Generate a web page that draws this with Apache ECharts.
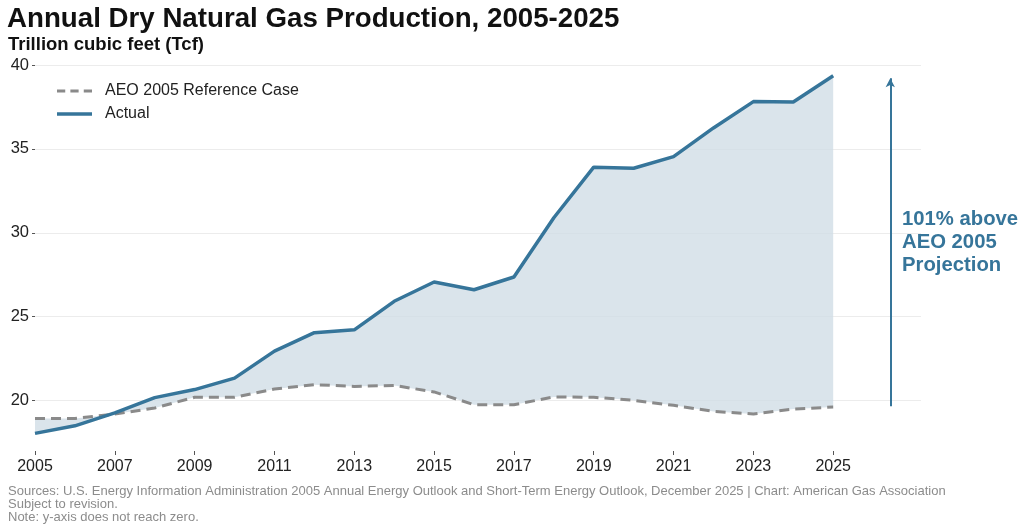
<!DOCTYPE html>
<html>
<head>
<meta charset="utf-8">
<script src="https://cdn.jsdelivr.net/npm/echarts@6/dist/echarts.min.js"></script>
<style>
html,body{margin:0;padding:0;background:#fff;}
#chart{width:1024px;height:529px;}
</style>
</head>
<body>
<div id="chart"></div>
<script>
const years = [2005,2006,2007,2008,2009,2010,2011,2012,2013,2014,2015,2016,2017,2018,2019,2020,2021,2022,2023,2024,2025];
const actual = [18.05,18.5,19.27,20.18,20.66,21.34,22.95,24.05,24.22,25.92,27.07,26.61,27.37,30.9,33.91,33.85,34.54,36.25,37.82,37.8,39.36];
const aeo2005 = [18.93,18.94,19.2,19.56,20.2,20.2,20.69,20.95,20.85,20.91,20.52,19.76,19.76,20.22,20.2,20.02,19.72,19.36,19.21,19.5,19.62];
const xTicks = [2005,2007,2009,2011,2013,2015,2017,2019,2021,2023,2025];
const yTicks = [20,25,30,35,40];
const titleText = 'Annual Dry Natural Gas Production, 2005-2025';
const subtitleText = 'Trillion cubic feet (Tcf)';
const annotationText = '101% above\nAEO 2005\nProjection';
const footLines = [
  'Sources: U.S. Energy Information Administration 2005 Annual Energy Outlook and Short-Term Energy Outlook, December 2025 | Chart: American Gas Association',
  'Subject to revision.',
  'Note: y-axis does not reach zero.'
];

const BLUE = '#36759a';
const GRAY = '#8a8a8a';
const FONT = '"Liberation Sans", Arial, sans-serif';

const actualPts = years.map((y,i)=>[y, actual[i]]);
const aeoPts = years.map((y,i)=>[y, aeo2005[i]]);
const bandData = years.map((y,i)=>[y, actual[i], aeo2005[i]]);
const arrowX = 2026.43;

const chart = echarts.init(document.getElementById('chart'), null, {renderer:'canvas'});
chart.setOption({
  animation:false,
  textStyle:{fontFamily:FONT},
  grid:{left:35, right:103, top:65, bottom:78, containLabel:false},
  xAxis:{
    type:'value', min:2005, max:2027.2,
    axisLine:{show:false},
    axisTick:{show:true, length:4, lineStyle:{color:'#555', width:1}, customValues:xTicks},
    axisLabel:{show:true, customValues:xTicks, color:'#222', fontSize:16, fontFamily:FONT, margin:8, formatter:v=>String(v)},
    splitLine:{show:false}
  },
  yAxis:{
    type:'value', min:17, max:40,
    axisLine:{show:false},
    axisTick:{show:true, length:3, lineStyle:{color:'#555', width:1}, customValues:yTicks},
    axisLabel:{show:true, customValues:yTicks, color:'#222', fontSize:16.5, fontFamily:FONT, margin:6},
    splitLine:{show:true, lineStyle:{color:'#ececec', width:1}}
  },
  legend:{
    show:true, left:52, top:78, orient:'vertical', itemGap:7,
    itemWidth:35, itemHeight:14,
    textStyle:{fontSize:16, color:'#222', fontFamily:FONT, padding:[0,0,0,8]},
    data:[
      {name:'AEO 2005 Reference Case', icon:'path://M0,6 L8,6 L8,9 L0,9 Z M13,6 L21,6 L21,9 L13,9 Z M26,6 L34,6 L34,9 L26,9 Z', itemStyle:{color:GRAY}},
      {name:'Actual', icon:'path://M0,5.8 L34,5.8 L34,9.2 L0,9.2 Z', itemStyle:{color:BLUE}}
    ]
  },
  series:[
    {
      name:'band', type:'custom', silent:true, z:1,
      data:bandData,
      encode:{x:0, y:[1,2]},
      renderItem:function(params, api){
        if (params.dataIndex !== 0) return null;
        const top = bandData.map(d=>api.coord([d[0], d[1]]));
        const bot = bandData.map(d=>api.coord([d[0], d[2]])).reverse();
        return {
          type:'polygon',
          shape:{points: top.concat(bot)},
          style:{fill:'#cfdce5', opacity:0.78}
        };
      }
    },
    {
      name:'AEO 2005 Reference Case', type:'line', data:aeoPts, symbol:'none',
      lineStyle:{color:GRAY, width:3, type:[10,6]}, itemStyle:{color:GRAY}, z:3
    },
    {
      name:'Actual', type:'line', data:actualPts, symbol:'none',
      lineStyle:{color:BLUE, width:3.5}, itemStyle:{color:BLUE}, z:4,
      markLine:{
        silent:true, symbol:['none','arrow'], symbolSize:[7,9],
        lineStyle:{color:BLUE, width:2, type:'solid'},
        label:{show:false},
        data:[[{coord:[arrowX, aeo2005[aeo2005.length-1]+0.05]},{coord:[arrowX, actual[actual.length-1]-0.15]}]]
      }
    }
  ],
  graphic:[
    {type:'text', left:7, top:5, style:{text:titleText, font:'bold 27.7px '+FONT, fill:'#111'}},
    {type:'text', left:8, top:35, style:{text:subtitleText, font:'bold 18.5px '+FONT, fill:'#111'}},
    {type:'text', left:902, top:207.5, style:{text:annotationText, font:'bold 20.3px '+FONT, fill:BLUE, lineHeight:23}},
    {type:'text', left:8, top:484.5, style:{text:footLines.join('\n'), font:'13px '+FONT, fill:'#8c8c8c', lineHeight:13.3}}
  ]
});
</script>
</body>
</html>
